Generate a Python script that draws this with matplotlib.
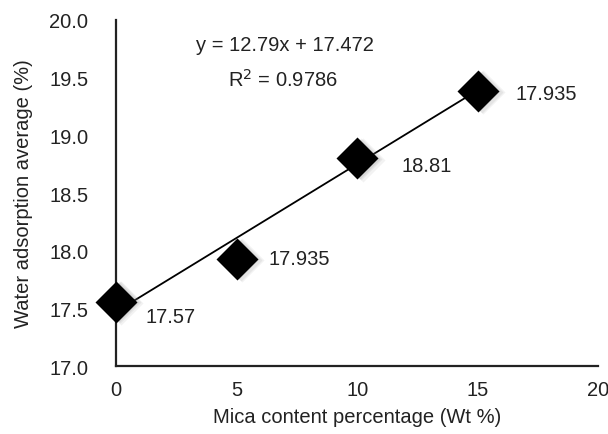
import numpy as np
import matplotlib.pyplot as plt

plt.rcParams['font.family'] = ['Liberation Sans', 'DejaVu Sans']

mica = [0, 5, 10, 15]
adsorption = [17.56, 17.93, 18.80, 19.385]
point_labels = ['17.57', '17.935', '18.81', '17.935']
slope, intercept = 12.79, 17.472

fig = plt.figure(figsize=(6.08, 4.35), dpi=100)
ax = fig.add_axes([0.191, 0.156, 0.793, 0.796])

# trend line (fit was done on fraction, x/100)
xs = np.array([mica[0], mica[-1]])
ax.plot(xs, slope * xs / 100 + intercept, color='black', lw=1.3, zorder=2)

# soft shadow under the diamonds
for k, a in enumerate([0.10, 0.12, 0.15]):
    off = 0.22 - k * 0.06
    ax.plot(np.array(mica) + off, np.array(adsorption) - off * 0.045, 'D',
            ms=22 - k, color='gray', alpha=a, mec='none', zorder=3, clip_on=False)
ax.plot(mica, adsorption, 'D', ms=21, color='black', mec='none', zorder=4, clip_on=False)

offsets = [(21, -11), (23, 0), (32, -5), (27, -2)]
for x, y, lab, (dx, dy) in zip(mica, adsorption, point_labels, offsets):
    ax.annotate(lab, (x, y), xytext=(dx, dy), textcoords='offset points',
                fontsize=14.5, color='#222222', va='center', ha='left')

ax.text(0.35, 0.93, 'y = 12.79x + 17.472', transform=ax.transAxes,
        fontsize=14.5, color='#222222', ha='center', va='center')
ax.text(0.347, 0.83, 'R$^2$ = 0.9786', transform=ax.transAxes,
        fontsize=14.5, color='#222222', ha='center', va='center')

ax.set_xlim(0, 20)
ax.set_ylim(17.0, 20.0)
ax.set_xticks([0, 5, 10, 15, 20])
ax.set_yticks(np.arange(17.0, 20.01, 0.5))
ax.set_yticklabels([f'{v:.1f}' for v in np.arange(17.0, 20.01, 0.5)])
ax.tick_params(length=0, labelsize=14.5, labelcolor='#222222')
ax.tick_params(axis='y', pad=20)
ax.tick_params(axis='x', pad=10)

for s in ['top', 'right']:
    ax.spines[s].set_visible(False)
for s in ['left', 'bottom']:
    ax.spines[s].set_linewidth(1.6)
    ax.spines[s].set_color('#222222')

ax.set_xlabel('Mica content percentage (Wt %)', fontsize=14.5, color='#222222', labelpad=6)
ax.set_ylabel('Water adsorption average (%)', fontsize=14.5, color='#222222', labelpad=12)

fig.savefig('out.png', dpi=100)
